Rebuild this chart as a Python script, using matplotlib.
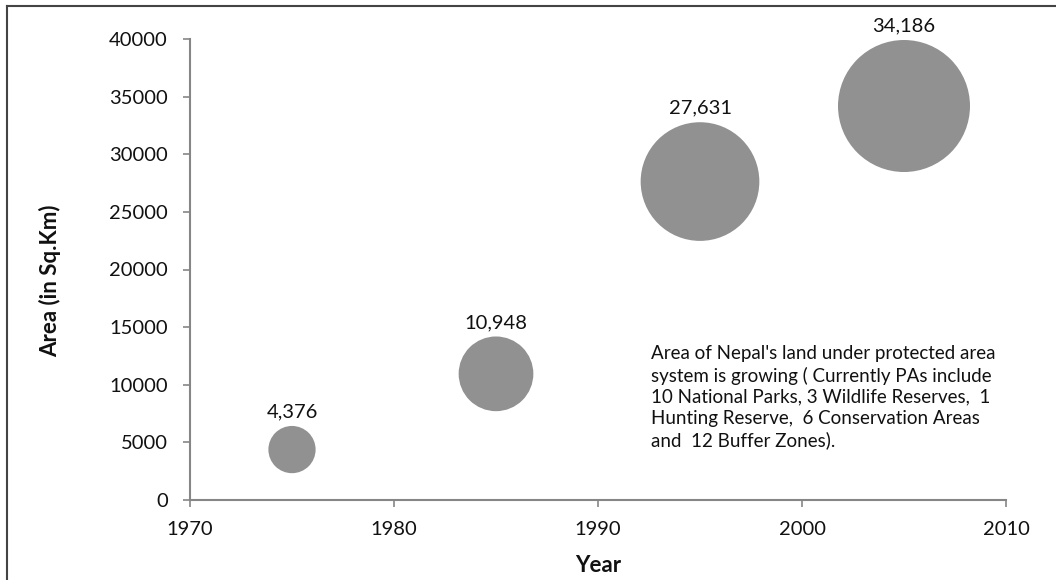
import matplotlib
matplotlib.use("Agg")
import matplotlib.pyplot as plt
from matplotlib.lines import Line2D

years = [1975, 1985, 1995, 2005]
area_sqkm = [4376, 10948, 27631, 34186]
x_ticks = [1970, 1980, 1990, 2000, 2010]
y_ticks = [0, 5000, 10000, 15000, 20000, 25000, 30000, 35000, 40000]
note = ("Area of Nepal's land under protected area\n"
        "system is growing ( Currently PAs include\n"
        "10 National Parks, 3 Wildlife Reserves,  1\n"
        "Hunting Reserve,  6 Conservation Areas\n"
        "and  12 Buffer Zones).")

BUBBLE = "#919191"
AXIS = "#868686"
INK = "#111111"

plt.rcParams["font.family"] = ["Lato", "DejaVu Sans"]

fig = plt.figure(figsize=(10.56, 5.8), dpi=100)
ax = fig.add_axes([190 / 1056, 1 - 500 / 580, 816 / 1056, 461 / 580])

# bubble area proportional to value, biggest one ~66 px radius
max_r_pt = 66 * 0.72
sizes = [(2 * max_r_pt) ** 2 * v / max(area_sqkm) for v in area_sqkm]
ax.scatter(years, area_sqkm, s=sizes, color=BUBBLE, edgecolors="none", zorder=3,
           clip_on=False)

for x, v, s in zip(years, area_sqkm, sizes):
    r = s ** 0.5 / 2
    ax.annotate(f"{v:,}", (x, v), xytext=(0, r + 4), textcoords="offset points",
                ha="center", va="bottom", fontsize=14.5, color=INK)

ax.set_xlim(1970, 2010)
ax.set_ylim(0, 40000)
ax.set_xticks(x_ticks)
ax.set_yticks(y_ticks)
ax.tick_params(direction="out", length=5, width=1.2, color=AXIS, labelsize=14.5,
               labelcolor=INK)
ax.tick_params(axis="x", pad=10)
ax.tick_params(axis="y", pad=11)
for side in ("top", "right"):
    ax.spines[side].set_visible(False)
for side in ("left", "bottom"):
    ax.spines[side].set_color(AXIS)
    ax.spines[side].set_linewidth(1.5)

fig.text(50 / 1056, 1 - 281 / 580, "Area (in Sq.Km)", rotation=90, ha="center",
         va="center", fontsize=16, fontweight="bold", color=INK)
fig.text(598 / 1056, 1 - 565 / 580, "Year", ha="center", va="center",
         fontsize=16, fontweight="bold", color=INK)

fig.text(651 / 1056, 1 - 345 / 580, note, ha="left", va="top", fontsize=13.5,
         color=INK, linespacing=1.3)

# outer frame (only top and left edges fall inside the picture)
fig.add_artist(Line2D([7 / 1056, 7 / 1056], [0, 1 - 6 / 580], color="#444444", lw=1.5))
fig.add_artist(Line2D([7 / 1056, 1], [1 - 6 / 580, 1 - 6 / 580], color="#444444", lw=1.5))

fig.savefig("out.png", dpi=100, facecolor="white")
